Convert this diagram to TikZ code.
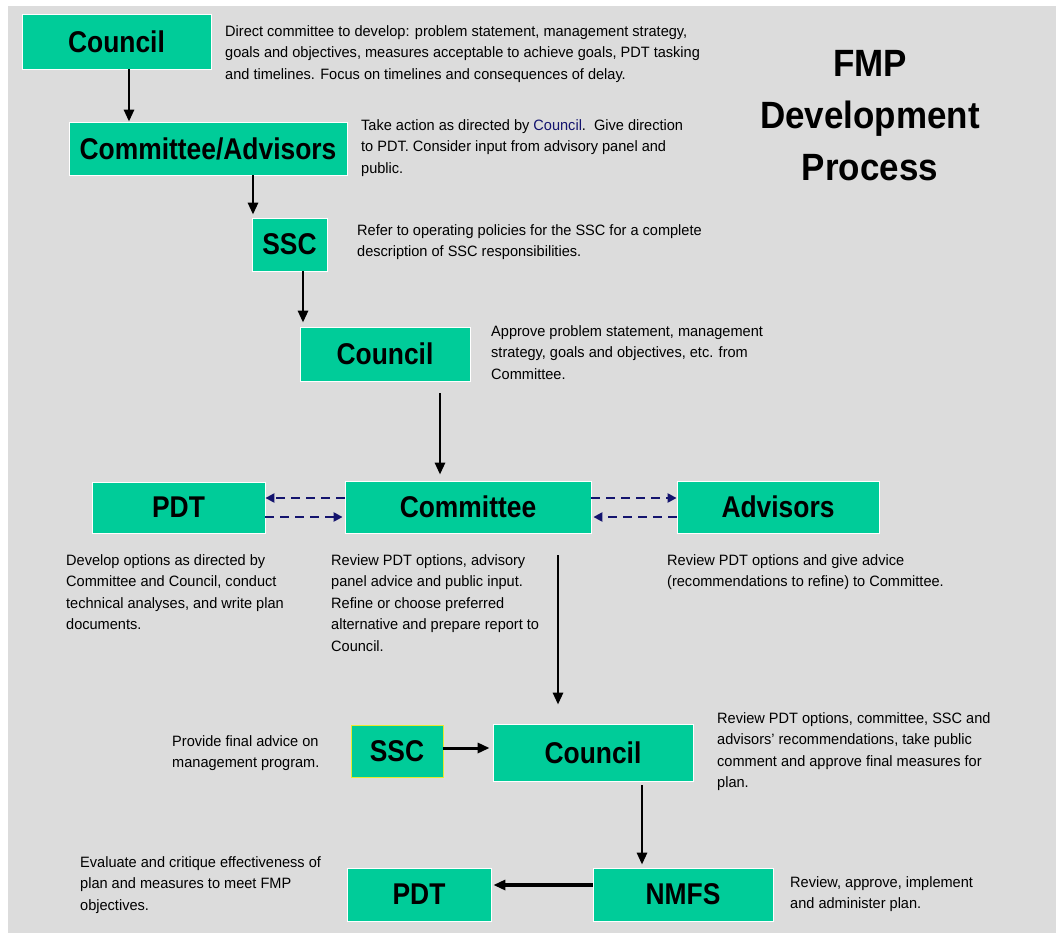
\documentclass[tikz,border=0pt]{standalone}
\usepackage{fontspec}
\setmainfont{Liberation Sans}[FakeStretch=0.97]
\newfontfamily\boxfont{Liberation Sans}[FakeStretch=0.88]
\newfontfamily\titlefont{Liberation Sans}[FakeStretch=0.92]
\usetikzlibrary{arrows.meta}
\definecolor{bg}{HTML}{DCDCDC}
\definecolor{boxg}{HTML}{00CC99}
\definecolor{navy}{HTML}{14146E}
\definecolor{ylw}{HTML}{E8E830}
\begin{document}
\begin{tikzpicture}[x=1pt,y=-1pt,
 box/.style={fill=boxg,draw=white,line width=0.8pt,inner sep=0pt,font=\boxfont\bfseries\fontsize{30}{33}\selectfont},
 txt/.style={anchor=north west,inner sep=0pt,align=left,font=\fontsize{15}{21.5}\selectfont},
 arr/.style={line width=2.8pt,-{Triangle[length=12pt,width=10pt]}},
 dsh/.style={navy,line width=2.2pt,dash pattern=on 9pt off 6pt,-{Triangle[length=9pt,width=9pt]}}]
\useasboundingbox (0,0) rectangle (1062,936);
\fill[white] (0,0) rectangle (1062,936);
\fill[bg] (8,6) rectangle (1056,933);
% boxes
\node[box,minimum width=189pt,minimum height=55pt] (c1) at (116.5,41.5) {Council};
\node[box,minimum width=278pt,minimum height=53pt] (ca) at (208,148.5) {Committee/Advisors};
\node[box,minimum width=75pt,minimum height=53pt] (ssc1) at (289.5,244.5) {SSC};
\node[box,minimum width=170pt,minimum height=54pt] (c2) at (385,354) {Council};
\node[box,minimum width=173pt,minimum height=51pt] (pdt1) at (178.5,507.5) {PDT};
\node[box,minimum width=246pt,minimum height=52pt] (com) at (468,507) {Committee};
\node[box,minimum width=202pt,minimum height=52pt] (adv) at (778,507) {Advisors};
\node[box,draw=ylw,minimum width=92pt,minimum height=52pt] (ssc2) at (397,751) {SSC};
\node[box,minimum width=200pt,minimum height=57pt] (c3) at (593,752.5) {Council};
\node[box,minimum width=144pt,minimum height=53pt] (pdt2) at (419,894.5) {PDT};
\node[box,minimum width=180pt,minimum height=53pt] (nmfs) at (683,894.5) {NMFS};
% title
\node[align=center,inner sep=0pt,font=\titlefont\bfseries\fontsize{38}{52}\selectfont] (title) at (870,116) {FMP\\Development\\Process};
% arrows
\draw[arr] ([xshift=12.5pt]c1.south) -- ([xshift=-79pt]ca.north);
\draw[arr] ([xshift=45pt]ca.south) -- ([xshift=-36.5pt,yshift=3pt]ssc1.north);
\draw[arr] ([xshift=13.5pt]ssc1.south) -- ([xshift=-82pt,yshift=4pt]c2.north);
\draw[arr] ([xshift=55pt,yshift=-12pt]c2.south) -- ([xshift=-28pt,yshift=6pt]com.north);
\draw[arr] ([xshift=90pt,yshift=-22pt]com.south) -- ([xshift=-35pt,yshift=19pt]c3.north);
\draw[arr,line width=3pt] ([yshift=3pt]ssc2.east) -- ([yshift=4.5pt,xshift=-3pt]c3.west);
\draw[arr] ([xshift=49pt,yshift=-4pt]c3.south) -- ([xshift=-41pt,yshift=3pt]nmfs.north);
\draw[arr,line width=4pt] ([yshift=9.5pt]nmfs.west) -- ([yshift=9.5pt,xshift=2pt]pdt2.east);
% dashed
\draw[dsh] ([yshift=9pt]com.west) -- ([yshift=9.5pt]pdt1.east);
\draw[dsh] ([yshift=-9.5pt]pdt1.east) -- ([yshift=-10pt,xshift=-2pt]com.west);
\draw[dsh] ([yshift=9pt]com.east) -- ([yshift=9pt]adv.west);
\draw[dsh] ([yshift=-10pt]adv.west) -- ([yshift=-10pt,xshift=2pt]com.east);
% texts
\node[txt] (t1) at (225,25) {Direct committee to develop: problem statement, management strategy,\\goals and objectives, measures acceptable to achieve goals, PDT tasking\\and timelines. Focus on timelines and consequences of delay.};
\node[txt] (t2) at (361,119) {Take action as directed by \textcolor{navy}{Council}.\ \ Give direction\\to PDT. Consider input from advisory panel and\\public.};
\node[txt] (t3) at (357,224) {Refer to operating policies for the SSC for a complete\\description of SSC responsibilities.};
\node[txt] (t4) at (491,325) {Approve problem statement, management\\strategy, goals and objectives, etc. from\\Committee.};
\node[txt] (t5) at (66,554) {Develop options as directed by\\Committee and Council, conduct\\technical analyses, and write plan\\documents.};
\node[txt] (t6) at (331,554) {Review PDT options, advisory\\panel advice and public input.\\Refine or choose preferred\\alternative and prepare report to\\Council.};
\node[txt] (t7) at (667,554) {Review PDT options and give advice\\(recommendations to refine) to Committee.};
\node[txt] (t8) at (172,735) {Provide final advice on\\management program.};
\node[txt] (t9) at (717,712) {Review PDT options, committee, SSC and\\advisors' recommendations, take public\\comment and approve final measures for\\plan.};
\node[txt] (t10) at (80,856) {Evaluate and critique effectiveness of\\plan and measures to meet FMP\\objectives.};
\node[txt] (t11) at (790,876) {Review, approve, implement\\and administer plan.};
\end{tikzpicture}
\end{document}
